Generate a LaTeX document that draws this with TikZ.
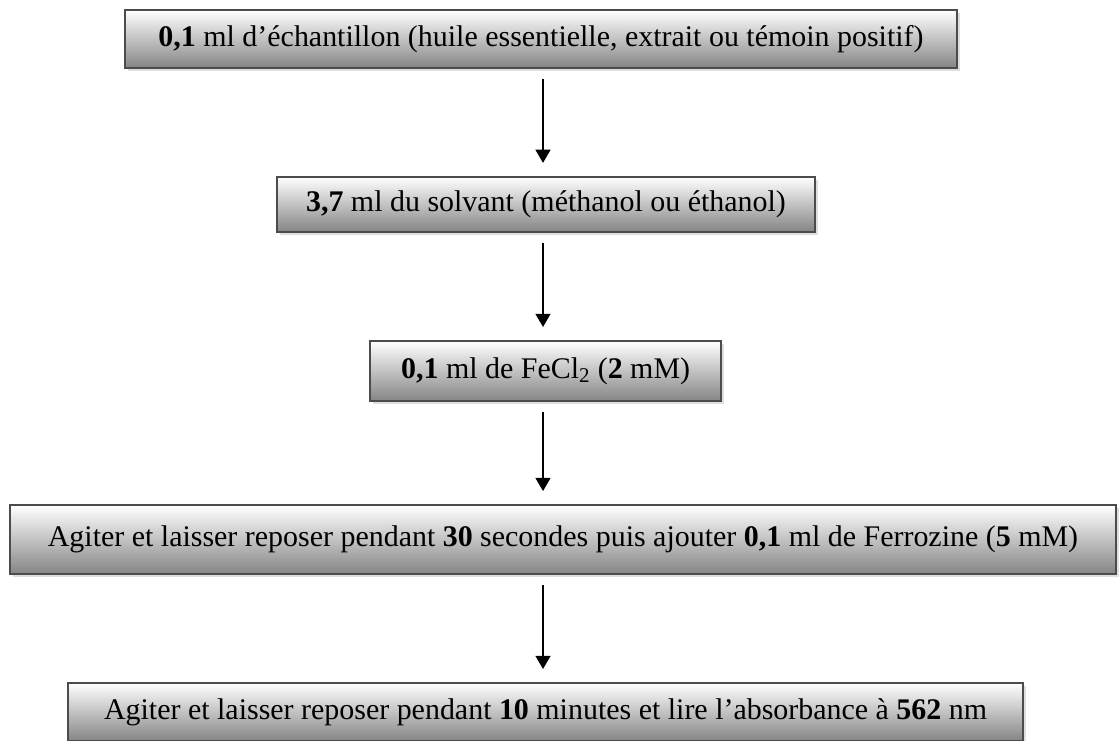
\documentclass[tikz,border=0pt]{standalone}
\usepackage{fontspec}
\setmainfont{Liberation Serif}
\usepackage{tikz}
\usetikzlibrary{arrows.meta}
\usetikzlibrary{shadows}
\tikzset{every edge/.style={shorten <=0.25cm, shorten >=0.33cm, draw, line width=0.05cm}}
\tikzset{stepbox/.style={draw=black!70, line width=0.04cm, top color=white, bottom color=black!48,
    inner sep=0pt, font=\fontsize{21.3}{25}\selectfont,
    drop shadow={shadow xshift=0.07cm, shadow yshift=-0.07cm, opacity=0.25}}}
\tikzset{flow/.style={-{Triangle[width=0.37cm,length=0.33cm]}}}

\begin{document}
\begin{tikzpicture}[scale=1]       % protocole chelation du fer
    \path[use as bounding box] (0, 0) rectangle (27.975, -18.5);

    \node[stepbox, minimum width=20.8cm, minimum height=1.45cm] at (13.525, -0.975) (b1) {\textbf{0,1} ml d’échantillon (huile essentielle, extrait ou témoin positif)};
    \node[stepbox, minimum width=13.45cm, minimum height=1.375cm] at (13.65, -5.11) (b2) {\textbf{3,7} ml du solvant (méthanol ou éthanol)};
    \node[stepbox, minimum width=8.775cm, minimum height=1.5cm] at (13.64, -9.275) (b3) {\textbf{0,1} ml de FeCl\textsubscript{2} (\textbf{2} mM)};
    \node[stepbox, minimum width=27.65cm, minimum height=1.725cm] at (14.075, -13.49) (b4) {Agiter et laisser reposer pendant \textbf{30} secondes puis ajouter \textbf{0,1} ml de Ferrozine (\textbf{5} mM)};
    \node[stepbox, minimum width=23.875cm, minimum height=1.45cm] at (13.64, -17.8) (b5) {Agiter et laisser reposer pendant \textbf{10} minutes et lire l’absorbance à \textbf{562} nm};

    \coordinate (axis) at (13.575, 0);
    \draw (b1.south -| axis) edge[flow] (axis |- b2.north);
    \draw (b2.south -| axis) edge[flow] (axis |- b3.north);
    \draw (b3.south -| axis) edge[flow] (axis |- b4.north);
    \draw (b4.south -| axis) edge[flow] (axis |- b5.north);
\end{tikzpicture}
\end{document}
